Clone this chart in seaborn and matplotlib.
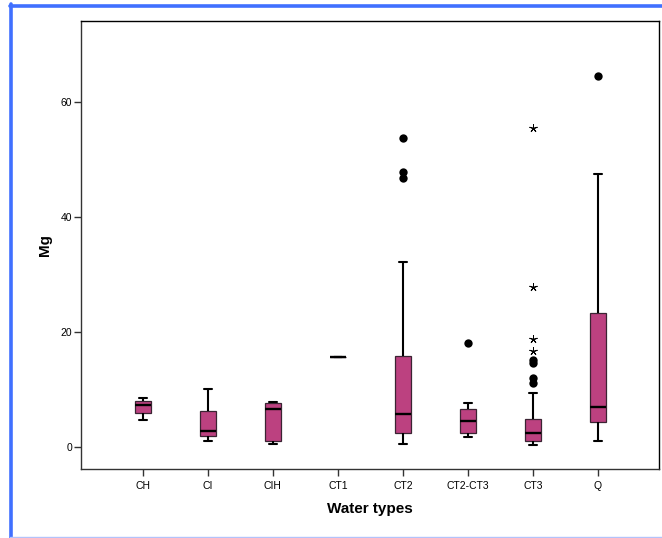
import numpy as np
import pandas as pd
import matplotlib as mpl
mpl.use('Agg')
import matplotlib.pyplot as plt
import seaborn as sns
from matplotlib.lines import Line2D

groups = ["CH", "CI", "CIH", "CT1", "CT2", "CT2-CT3", "CT3", "Q"]

# box data (whisker low, Q1, median, Q3, whisker high)
ch = [4.75, 6.0, 7.35, 8.0, 8.6]
ci = [1.1, 2.0, 2.8, 6.4, 10.1]
cih = [0.65, 1.05, 6.7, 7.65, 7.9]
ct1 = [15.7]
ct2 = [0.65, 2.55, 5.75, 15.9, 32.2]
ct2_ct3 = [1.85, 2.55, 4.65, 6.7, 7.75]
ct3 = [0.4, 1.1, 2.55, 4.9, 9.5]
q = [1.15, 4.35, 6.95, 23.3, 47.5]

# outliers (circles) and extremes (stars)
out_groups = ["CT2", "CT2", "CT2", "CT2-CT3", "CT3", "CT3", "CT3", "CT3", "Q"]
out_values = [53.8, 47.9, 46.8, 18.1, 15.1, 14.7, 12.1, 11.2, 64.6]
ext_groups = ["CT3", "CT3", "CT3", "CT3"]
ext_values = [55.5, 27.9, 18.8, 16.75]

box_color = '#BC4180'

sns.set_style('ticks')
plt.rcParams['font.family'] = ['Liberation Sans', 'DejaVu Sans']

values = [ch, ci, cih, ct1, ct2, ct2_ct3, ct3, q]
df = pd.DataFrame({
	'group': np.repeat(groups, [len(v) for v in values]),
	'Mg': np.concatenate(values),
})
df_out = pd.DataFrame({'group': out_groups, 'Mg': out_values})
df_ext = pd.DataFrame({'group': ext_groups, 'Mg': ext_values})

fig = plt.figure(figsize=(6.62, 5.38), dpi=100)
ax = fig.add_axes([0.1224, 0.1283, 0.8731, 0.8321])

sns.boxplot(data=df, x='group', y='Mg', order=groups, ax=ax,
			color=box_color, saturation=1, width=0.25, whis=(0, 100),
			showfliers=False,
			boxprops=dict(edgecolor='#3b2433', linewidth=0.9),
			whiskerprops=dict(color='black', linewidth=1.5),
			capprops=dict(color='black', linewidth=1.5),
			medianprops=dict(color='black', linewidth=1.7))

sns.stripplot(data=df_out, x='group', y='Mg', order=groups, ax=ax,
			  jitter=False, color='black', size=6, linewidth=0)
sns.stripplot(data=df_ext, x='group', y='Mg', order=groups, ax=ax,
			  jitter=False, color='black', size=5.5, marker=(5, 2, 0),
			  linewidth=0.7, edgecolor='black')

ax.set_xlim(-0.95, 7.94)
ax.set_ylim(-3.77, 74.1)
ax.set_yticks([0, 20, 40, 60])

for s in ax.spines.values():
	s.set_visible(True)
	s.set_color('black')
	s.set_linewidth(1.0)
ax.spines['left'].set_color('#333333')
ax.spines['bottom'].set_color('#333333')

ax.tick_params(axis='both', direction='out', length=5, width=1, labelsize=7.5,
			   color='#333333', labelcolor='black')
ax.tick_params(axis='y', pad=1.5)
ax.tick_params(axis='x', pad=3.5)

ax.set_xlabel('Water types', fontsize=11, fontweight='bold', labelpad=8, color='black')
ax.set_ylabel('Mg', fontsize=11, fontweight='bold', labelpad=6, color='black')

# blue frame around the output
fig.add_artist(Line2D([9.5 / 662, 1], [1 - 5.75 / 538] * 2, color='#4070FF', lw=2.6,
					  transform=fig.transFigure))
fig.add_artist(Line2D([11.3 / 662] * 2, [0, 1 - 4 / 538], color='#4070FF', lw=2.6,
					  transform=fig.transFigure))
fig.add_artist(Line2D([9.5 / 662, 1], [1.3 / 538] * 2, color='#b3c3fa', lw=1.0,
					  transform=fig.transFigure))

fig.savefig('out.png', dpi=100)
